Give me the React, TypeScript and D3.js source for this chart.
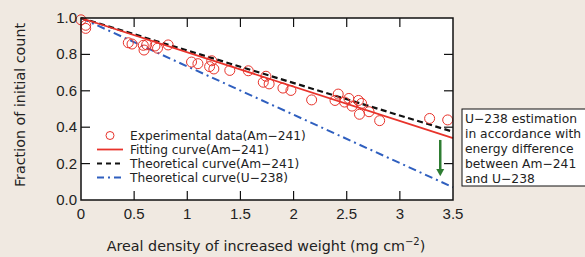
import * as d3 from "d3";

// experimental data (Am-241)
const expX = [0.0, 0.044, 0.044, 0.445, 0.48, 0.586, 0.593, 0.618, 0.696, 0.72, 0.82,
  1.04, 1.1, 1.21, 1.23, 1.25, 1.4, 1.574, 1.715, 1.74, 1.77, 1.9, 1.975, 2.17,
  2.39, 2.42, 2.48, 2.52, 2.55, 2.61, 2.64, 2.62, 2.71, 2.81, 3.28, 3.45];
const expY = [0.99, 0.96, 0.943, 0.864, 0.857, 0.85, 0.824, 0.853, 0.846, 0.834, 0.852,
  0.758, 0.749, 0.733, 0.765, 0.72, 0.712, 0.71, 0.647, 0.68, 0.638, 0.615, 0.602, 0.55,
  0.547, 0.582, 0.538, 0.558, 0.516, 0.547, 0.531, 0.471, 0.485, 0.436, 0.448, 0.44];

const lineX = [0, 3.5];
const fitY = [1.0, 0.34];
const theoAmY = [1.0, 0.375];
const theoUY = [1.0, 0.07];

const xTicks = [0, 0.5, 1, 1.5, 2, 2.5, 3, 3.5];
const yTicks = [0, 0.2, 0.4, 0.6, 0.8, 1.0];

const legendLabels = [
  "Experimental data(Am\u2212241)",
  "Fitting curve(Am\u2212241)",
  "Theoretical curve(Am\u2212241)",
  "Theoretical curve(U\u2212238)",
];
const noteLines = [
  "U\u2212238 estimation",
  "in accordance with",
  "energy difference",
  "between Am\u2212241",
  "and U\u2212238",
];

const W = 585, H = 257;
const red = "#e8332b";
const blue = "#2f5fbf";
const font = "'Liberation Sans', Arial, sans-serif";
const wide = "'DejaVu Sans', sans-serif";

export default function App() {
  const x = d3.scaleLinear().domain([0, 3.5]).range([81, 453]);
  const y = d3.scaleLinear().domain([0, 1]).range([200, 18]);
  const line = d3.line<number>().x((d, i) => x(lineX[i])).y((d) => y(d));
  const fmtX = (v: number) => (v === 0 ? "0" : d3.format("")(v));

  return (
    <svg width={W} height={H} style={{ position: "absolute", left: 0, top: 0 }} fontFamily={font}>
      <rect width={W} height={H} fill="#f0e9e1" />
      <rect x={x(0)} y={y(1)} width={x(3.5) - x(0)} height={y(0) - y(1)} fill="#fff" />

      {/* curves */}
      <path d={line(theoUY)!} fill="none" stroke={blue} strokeWidth={2} strokeDasharray="8,4,2,4" />
      <path d={line(theoAmY)!} fill="none" stroke="#111" strokeWidth={2.2} strokeDasharray="6,3.5" />
      <path d={line(fitY)!} fill="none" stroke={red} strokeWidth={1.8} />

      {expX.map((v, i) => (
        <circle key={i} cx={x(v)} cy={y(expY[i])} r={5} fill="none" stroke={red} strokeWidth={1} />
      ))}

      {/* frame and ticks */}
      <rect x={x(0)} y={y(1)} width={x(3.5) - x(0)} height={y(0) - y(1)} fill="none" stroke="#111" strokeWidth={1.5} />
      {xTicks.slice(1, -1).map((t) => (
        <g key={t} stroke="#111" strokeWidth={1.2}>
          <line x1={x(t)} x2={x(t)} y1={y(0)} y2={y(0) - 9} />
          <line x1={x(t)} x2={x(t)} y1={y(1)} y2={y(1) + 9} />
        </g>
      ))}
      {yTicks.slice(1, -1).map((t) => (
        <g key={t} stroke="#111" strokeWidth={1.2}>
          <line x1={x(0)} x2={x(0) + 9} y1={y(t)} y2={y(t)} />
          <line x1={x(3.5)} x2={x(3.5) - 9} y1={y(t)} y2={y(t)} />
        </g>
      ))}
      {xTicks.map((t) => (
        <text key={t} x={x(t)} y={219} textAnchor="middle" fontSize={15} fill="#222">
          {fmtX(t)}
        </text>
      ))}
      {yTicks.map((t) => (
        <text key={t} x={77} y={y(t) + 5} textAnchor="end" fontSize={15} fill="#222">
          {d3.format(".1f")(t)}
        </text>
      ))}

      {/* axis titles */}
      <text x={266} y={251} textAnchor="middle" fontSize={14.3} fill="#222" fontFamily={wide}>
        Areal density of increased weight (mg cm
        <tspan dy={-6} fontSize={10}>{"\u22122"}</tspan>
        <tspan dy={6}>)</tspan>
      </text>
      <text transform={`translate(25,${y(0.5) - 4}) rotate(-90)`} textAnchor="middle" fontSize={14.3} fill="#222" fontFamily={wide}>
        Fraction of initial count
      </text>

      {/* legend */}
      {legendLabels.map((lab, i) => {
        const ly = 135.5 + i * 14;
        return (
          <g key={lab}>
            {i === 0 && <circle cx={110} cy={ly} r={4} fill="none" stroke={red} strokeWidth={1} />}
            {i === 1 && <line x1={97} x2={123} y1={ly} y2={ly} stroke={red} strokeWidth={1.8} />}
            {i === 2 && <line x1={97} x2={123} y1={ly} y2={ly} stroke="#111" strokeWidth={1.8} strokeDasharray="5,4" />}
            {i === 3 && <line x1={97} x2={123} y1={ly} y2={ly} stroke={blue} strokeWidth={1.8} strokeDasharray="7,4,2,4" />}
            <text x={130} y={ly + 4.5} fontSize={12.2} fill="#222" fontFamily={wide}>{lab}</text>
          </g>
        );
      })}

      {/* arrow */}
      <line x1={x(3.38)} x2={x(3.38)} y1={y(0.33)} y2={y(0.17)} stroke="#2e7d32" strokeWidth={2.5} />
      <path d={`M${x(3.38) - 4},${y(0.17)} L${x(3.38) + 4},${y(0.17)} L${x(3.38)},${y(0.13)} Z`} fill="#2e7d32" />

      {/* note box */}
      <rect x={462} y={109} width={130} height={77} fill="#fff" stroke="#111" strokeWidth={1} />
      {noteLines.map((s, i) => (
        <text key={s} x={465} y={123 + i * 15} fontSize={12.3} fill="#222" fontFamily={wide}>{s}</text>
      ))}
    </svg>
  );
}
